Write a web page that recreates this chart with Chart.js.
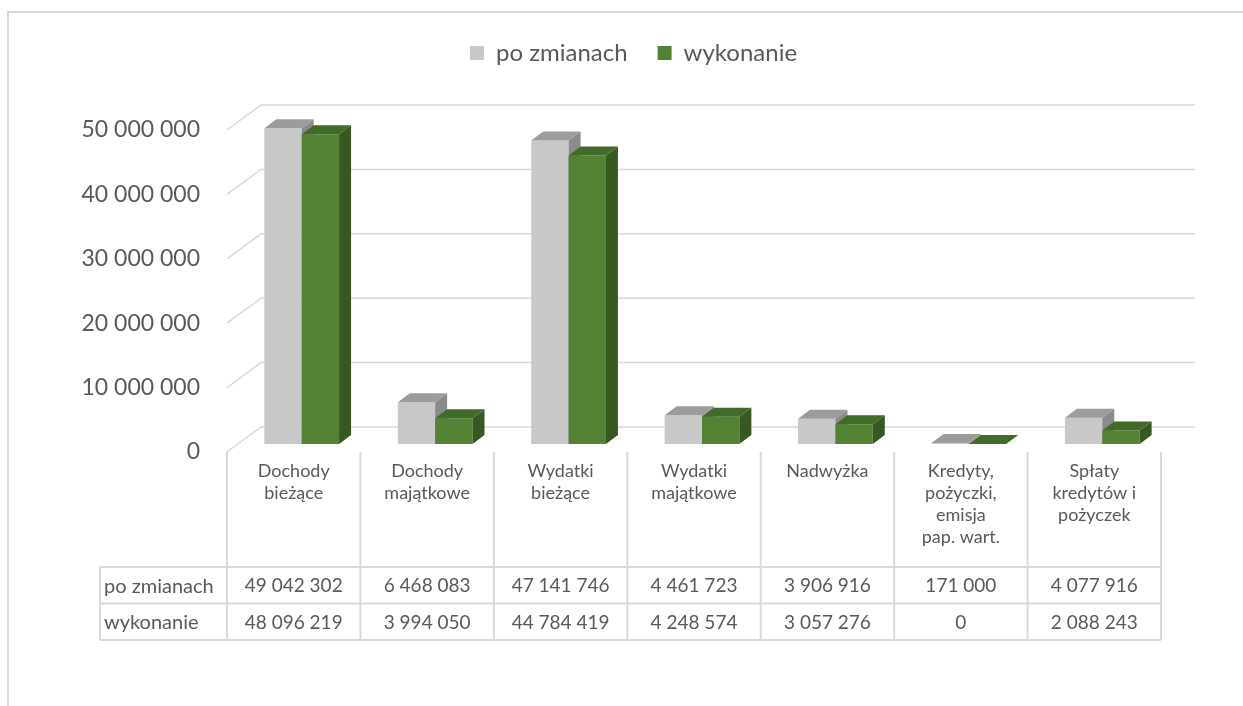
<!DOCTYPE html>
<html lang="pl">
<head>
<meta charset="utf-8">
<title>Dochody i wydatki</title>
<script src="https://cdn.jsdelivr.net/npm/chart.js@4.4.1/dist/chart.umd.min.js"></script>
<style>
    body { margin: 0; background: #fff; }
    #wrap { position: relative; width: 1243px; height: 706px; }
    #frame { position: absolute; left: 7px; top: 11px; right: 0; bottom: 0;
             border-left: 2px solid #d9d9d9; border-top: 2px solid #d9d9d9; }
    #chart { position: absolute; left: 0; top: 0; }
</style>
</head>
<body>
<div id="wrap">
    <div id="frame"></div>
    <canvas id="chart" width="1243" height="706"></canvas>
</div>
<script>
const categories = [
    ['Dochody', 'bieżące'],
    ['Dochody', 'majątkowe'],
    ['Wydatki', 'bieżące'],
    ['Wydatki', 'majątkowe'],
    ['Nadwyżka'],
    ['Kredyty,', 'pożyczki,', 'emisja', 'pap. wart.'],
    ['Spłaty', 'kredytów i', 'pożyczek'],
];
const seriesNames = ['po zmianach', 'wykonanie'];
const poZmianach = [49042302, 6468083, 47141746, 4461723, 3906916, 171000, 4077916];
const wykonanie = [48096219, 3994050, 44784419, 4248574, 3057276, 0, 2088243];
const yMin = 0;
const yMax = 50000000;
const yStep = 10000000;

const FONT = 'Lato, "Open Sans", sans-serif';
const TEXT = '#595959';
const GRID = '#d9d9d9';

// 3d look: bar plane, bar depth, back wall (offsets from front plane)
const BAR_DX = 8, BAR_DY = -8;
const DEPTH_DX = 12, DEPTH_DY = -9;
const BACK_DX = 34, BACK_DY = -25;

const faces = [
    { front: '#c8c8c8', top: '#9c9c9c', side: '#8b8b8b' },
    { front: '#548235', top: '#426a29', side: '#385723' },
];

function fmt(v) {
    return String(v).replace(/\B(?=(\d{3})+(?!\d))/g, ' ');
}

function poly(ctx, pts, color) {
    ctx.beginPath();
    ctx.moveTo(pts[0][0], pts[0][1]);
    for (let i = 1; i < pts.length; i++) ctx.lineTo(pts[i][0], pts[i][1]);
    ctx.closePath();
    ctx.fillStyle = color;
    ctx.fill();
}

// back wall + bars with top/side faces, drawn in dataset order
const bars3dPlugin = {
    id: 'bars3d',
    beforeDatasetsDraw(chart) {
        const { ctx, chartArea, scales } = chart;
        const y = scales.y;
        ctx.save();
        ctx.strokeStyle = GRID;
        ctx.lineWidth = 1.5;
        y.ticks.forEach(t => {
            const py = y.getPixelForValue(t.value);
            ctx.beginPath();
            ctx.moveTo(chartArea.left, py);
            ctx.lineTo(chartArea.left + BACK_DX, py + BACK_DY);
            ctx.lineTo(chartArea.right + BACK_DX, py + BACK_DY);
            ctx.stroke();
        });
        ctx.restore();

        chart.data.datasets.forEach((ds, i) => {
            const f = faces[i];
            ctx.save();
            ctx.translate(BAR_DX, BAR_DY);
            chart.getDatasetMeta(i).data.forEach(bar => {
                bar.draw(ctx);
                const { x, y, base, width } = bar.getProps(['x', 'y', 'base', 'width'], true);
                const l = x - width / 2, r = x + width / 2;
                poly(ctx, [[r, y], [r + DEPTH_DX, y + DEPTH_DY], [r + DEPTH_DX, base + DEPTH_DY], [r, base]], f.side);
                poly(ctx, [[l, y], [l + DEPTH_DX, y + DEPTH_DY], [r + DEPTH_DX, y + DEPTH_DY], [r, y]], f.top);
            });
            ctx.restore();
        });
        return false;
    },
};

const tablePlugin = {
    id: 'table',
    afterDraw(chart) {
        const { ctx, chartArea, scales } = chart;
        const x = scales.x;
        const step = x.getPixelForValue(1) - x.getPixelForValue(0);
        const rowTop = 567, rowH = 36.5, labelLeft = 100;
        const bottom = rowTop + rowH * 2;
        ctx.save();
        ctx.strokeStyle = GRID;
        ctx.lineWidth = 2;
        for (let i = 0; i <= categories.length; i++) {
            const px = x.getPixelForValue(0) - step / 2 + i * step;
            ctx.beginPath();
            ctx.moveTo(px, chartArea.bottom);
            ctx.lineTo(px, bottom);
            ctx.stroke();
        }
        ctx.beginPath();
        ctx.moveTo(labelLeft, rowTop);
        ctx.lineTo(labelLeft, bottom);
        for (let k = 0; k <= 2; k++) {
            ctx.moveTo(labelLeft, rowTop + k * rowH);
            ctx.lineTo(chartArea.right, rowTop + k * rowH);
        }
        ctx.stroke();

        ctx.fillStyle = TEXT;
        ctx.textBaseline = 'middle';
        [poZmianach, wykonanie].forEach((row, k) => {
            const cy = rowTop + rowH * k + rowH / 2 + 1;
            ctx.font = '20px ' + FONT;
            ctx.textAlign = 'left';
            ctx.fillText(seriesNames[k], labelLeft + 4, cy);
            ctx.font = '19px ' + FONT;
            ctx.textAlign = 'center';
            row.forEach((v, i) => ctx.fillText(fmt(v), x.getPixelForValue(i), cy));
        });
        ctx.restore();
    },
};

new Chart(document.getElementById('chart'), {
    type: 'bar',
    data: {
        labels: categories,
        datasets: [
            { label: seriesNames[0], data: poZmianach, backgroundColor: faces[0].front, xAxisID: 'x', yAxisID: 'y' },
            { label: seriesNames[1], data: wykonanie, backgroundColor: faces[1].front, xAxisID: 'x', yAxisID: 'y' },
        ],
    },
    options: {
        responsive: false,
        animation: false,
        layout: { padding: { top: 11, right: 0, bottom: 0, left: 24 } },
        datasets: {
            bar: { categoryPercentage: 0.56, barPercentage: 1.0, borderWidth: 0 },
        },
        plugins: {
            tooltip: { enabled: false },
            legend: {
                position: 'top',
                labels: {
                    color: TEXT,
                    font: { family: FONT, size: 24 },
                    boxWidth: 14,
                    boxHeight: 14,
                    padding: 30,
                },
            },
        },
        scales: {
            x: {
                grid: { display: false },
                border: { display: false },
                ticks: {
                    color: TEXT,
                    font: { family: FONT, size: 18, lineHeight: 1.22 },
                    padding: 0,
                    autoSkip: false,
                    maxRotation: 0,
                },
                afterFit(s) { s.height = 706 - 452; },
            },
            // empty axes only reserve room between legend / right edge and the plot
            spacer: {
                type: 'category',
                axis: 'x',
                position: 'top',
                grid: { display: false },
                border: { display: false },
                ticks: { display: false },
                afterFit(s) { s.height = 55; },
            },
            y: {
                min: yMin,
                max: yMax,
                grid: { display: false },
                border: { display: false },
                ticks: {
                    stepSize: yStep,
                    color: TEXT,
                    font: { family: FONT, size: 23 },
                    padding: 19,
                    callback: v => fmt(v),
                },
                afterFit(s) { s.width = 203; },
            },
            yr: {
                type: 'linear',
                axis: 'y',
                position: 'right',
                grid: { display: false },
                border: { display: false },
                ticks: { display: false },
                afterFit(s) { s.width = 82; },
            },
        },
    },
    plugins: [bars3dPlugin, tablePlugin],
});
</script>
</body>
</html>
